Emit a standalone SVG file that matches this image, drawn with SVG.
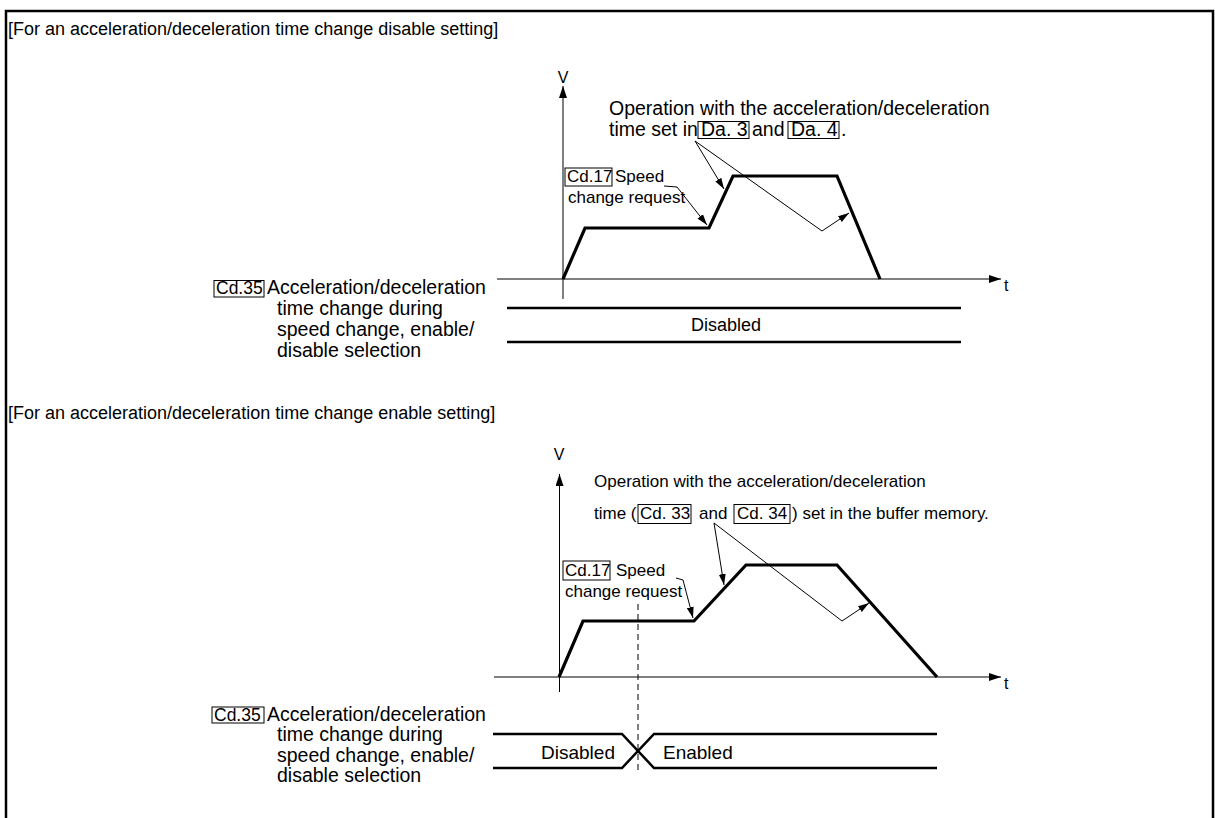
<svg xmlns="http://www.w3.org/2000/svg" width="1215" height="818" viewBox="0 0 1215 818">
<defs>
<style>
text{font-family:"Liberation Sans",Arial,Helvetica,sans-serif;fill:#000}
.ttl{font-size:18px}
.ax{font-size:16px}
.n1{font-size:19.5px}
.n2{font-size:17px}
.lb{font-size:17px}
.cdb{font-size:17.5px}
.cd{font-size:19.5px}
.st{font-size:18px}
.st2{font-size:19px}
.thin{stroke:#000;stroke-width:1;fill:none}
.prof{stroke:#000;stroke-width:3.2;fill:none;stroke-linejoin:miter}
.sig{stroke:#000;stroke-width:2.5;fill:none}
.box{fill:none;stroke:#000;stroke-width:1}
.dash{stroke:#000;stroke-width:1;stroke-dasharray:6 4;fill:none}
</style>
<marker id="axh" viewBox="0 0 12 8" refX="12" refY="4" markerWidth="12" markerHeight="8" orient="auto" markerUnits="userSpaceOnUse"><path d="M0,0 L12,4 L0,8 Z" fill="#000"/></marker>
<marker id="ldh" viewBox="0 0 11 7" refX="11" refY="3.5" markerWidth="11" markerHeight="7" orient="auto" markerUnits="userSpaceOnUse"><path d="M0,0 L11,3.5 L0,7 Z" fill="#000"/></marker>
</defs>
<rect width="1215" height="818" fill="#fff"/>
<g id="frame"><path d="M6,818 V11 H1213 V818" fill="none" stroke="#000" stroke-width="2.5"/></g>

<!-- Upper section -->
<g id="title-disable"><text class="ttl" x="8" y="35">[For an acceleration/deceleration time change disable setting]</text></g>
<g id="axes-upper">
<text class="ax" x="563" y="83" text-anchor="middle">V</text>
<text class="ax" x="1004" y="291">t</text>
</g>
<g id="profile-upper"><polyline class="prof" points="563,279 585,228 709,228 733,176 837,176 880,279"/></g>
<g id="note-upper">
<text class="n1" x="609" y="115">Operation with the acceleration/deceleration</text>
<text class="n1" x="609" y="136">time set in</text>
<rect class="box" x="698" y="121.5" width="51" height="17"/>
<text class="n1" x="701" y="136">Da. 3</text>
<text class="n1" x="752" y="136">and</text>
<rect class="box" x="788" y="121.5" width="51" height="17"/>
<text class="n1" x="791" y="136">Da. 4</text>
<text class="n1" x="841" y="136">.</text>
</g>
<g id="cd17-upper">
<rect class="box" x="565" y="168" width="47" height="18"/>
<text class="lb" x="567" y="182">Cd.17</text>
<text class="lb" x="615" y="182">Speed</text>
<text class="lb" x="568" y="203">change request</text>
</g>
<g id="cd35-upper">
<rect class="box" x="214" y="280.5" width="50" height="16.5"/>
<text class="cdb" x="216" y="294">Cd.35</text>
<text class="cd" x="267" y="294">Acceleration/deceleration</text>
<text class="cd" x="277" y="315">time change during</text>
<text class="cd" x="277" y="336">speed change, enable/</text>
<text class="cd" x="277" y="357">disable selection</text>
</g>
<g id="signal-upper">
<path class="sig" d="M507,308 H961 M507,342 H961"/>
<text class="st" x="726" y="331" text-anchor="middle">Disabled</text>
</g>

<!-- Lower section -->
<g id="title-enable"><text class="ttl" x="8" y="419">[For an acceleration/deceleration time change enable setting]</text></g>
<g id="axes-lower">
<text class="ax" x="559" y="460" text-anchor="middle">V</text>
<text class="ax" x="1004" y="689">t</text>
</g>
<g id="profile-lower"><polyline class="prof" points="559,677 583,621 694,621 746,565 837,565 937,677"/></g>
<g id="note-lower">
<text class="n2" x="594" y="487">Operation with the acceleration/deceleration</text>
<text class="n2" x="594" y="519">time (</text>
<rect class="box" x="638" y="504.5" width="53" height="19"/>
<text class="n2" x="640" y="519">Cd. 33</text>
<text class="n2" x="699" y="519">and</text>
<rect class="box" x="734" y="504.5" width="56" height="19"/>
<text class="n2" x="737" y="519">Cd. 34</text>
<text class="n2" x="792" y="519">) set in the buffer memory.</text>
</g>
<g id="cd17-lower">
<rect class="box" x="563" y="561" width="47" height="19"/>
<text class="lb" x="565" y="576">Cd.17</text>
<text class="lb" x="616" y="576">Speed</text>
<text class="lb" x="565" y="597">change request</text>
</g>
<g id="cd35-lower">
<rect class="box" x="212" y="707" width="52" height="16"/>
<text class="cdb" x="214" y="721">Cd.35</text>
<text class="cd" x="267" y="721">Acceleration/deceleration</text>
<text class="cd" x="277" y="741">time change during</text>
<text class="cd" x="277" y="762">speed change, enable/</text>
<text class="cd" x="277" y="782">disable selection</text>
</g>
<g id="signal-lower">
<path class="sig" d="M493,734 H622 L654,768 H937 M493,768 H622 L654,734 H937"/>
<text class="st2" x="578" y="759" text-anchor="middle">Disabled</text>
<text class="st2" x="663" y="759">Enabled</text>
</g>

<!-- Connectors -->
<g id="connectors">
<line class="thin" x1="563" y1="299" x2="563" y2="86" marker-end="url(#axh)"/>
<line class="thin" x1="497" y1="279" x2="1001" y2="279" marker-end="url(#axh)"/>
<polyline class="thin" points="664,186 677,187 707,225" marker-end="url(#ldh)"/>
<line class="thin" x1="695" y1="141" x2="724" y2="189" marker-end="url(#ldh)"/>
<polyline class="thin" points="695,141 822,231 849,213" marker-end="url(#ldh)"/>

<line class="thin" x1="559.5" y1="692" x2="559.5" y2="474" marker-end="url(#axh)"/>
<line class="thin" x1="494" y1="677" x2="1001" y2="677" marker-end="url(#axh)"/>
<line class="dash" x1="638" y1="604" x2="638" y2="771"/>
<polyline class="thin" points="676,578 683,580 693,618" marker-end="url(#ldh)"/>
<line class="thin" x1="714" y1="523" x2="724" y2="585" marker-end="url(#ldh)"/>
<polyline class="thin" points="714,523 842,621 869,603" marker-end="url(#ldh)"/>
</g>
</svg>
